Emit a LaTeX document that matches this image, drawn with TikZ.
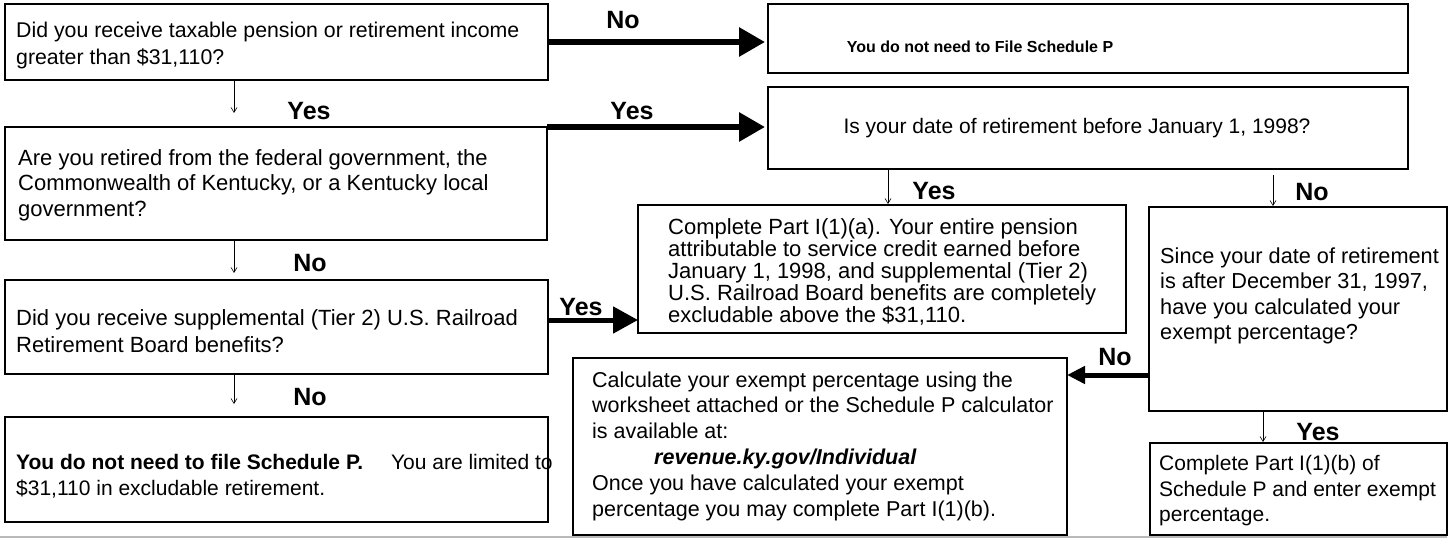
\documentclass[tikz,border=0pt]{standalone}
\usepackage{fontspec}
\setmainfont{Liberation Sans}
\usetikzlibrary{arrows.meta}
\begin{document}
\begin{tikzpicture}[x=1pt,y=-1pt,
  box/.style={draw, line width=2.5pt, anchor=north west, inner sep=0pt, outer sep=0pt},
  txt/.style={anchor=west, align=left, inner sep=0pt, font=\fontsize{21}{25.5}\selectfont},
  lbl/.style={font=\fontsize{25}{25}\selectfont\bfseries, inner sep=0pt},
  thinarrow/.style={line width=0.6pt, -{Straight Barb[length=5pt,width=6pt]}},
  thickarrow/.style={line width=6pt, -{Triangle[length=26pt,width=28pt]}, shorten >=3pt},
]
\useasboundingbox (0,0) rectangle (1452,538);
% boxes
\node[box, minimum width=543pt, minimum height=76pt] (b1) at (5,4) {};
\node[box, minimum width=640pt, minimum height=69pt] (b2) at (768,4) {};
\node[box, minimum width=542pt, minimum height=113pt] (b3) at (5,127) {};
\node[box, minimum width=543pt, minimum height=94pt] (b4) at (5,280) {};
\node[box, minimum width=543pt, minimum height=105pt] (b5) at (5,417) {};
\node[box, minimum width=488pt, minimum height=128pt] (b6) at (638,205) {};
\node[box, minimum width=640pt, minimum height=82pt] (b7) at (768,87) {};
\node[box, minimum width=494pt, minimum height=177pt] (b8) at (573,358) {};
\node[box, minimum width=298pt, minimum height=204pt] (b9) at (1149,207) {};
\node[box, minimum width=297pt, minimum height=92pt] (b10) at (1150,443) {};
% texts
\node[txt, font=\fontsize{21.3}{27}\selectfont] (t1) at (16,45) {Did you receive taxable pension or retirement income\\greater than \$31,110?};
\node[inner sep=0pt, font=\fontsize{16}{16}\selectfont\bfseries] (t2) at (980,47) {You do not need to File Schedule P};
\node[txt, font=\fontsize{22}{25.5}\selectfont] (t3) at (18,185) {Are you retired from the federal government, the\\Commonwealth of Kentucky, or a Kentucky local\\government?};
\node[txt, font=\fontsize{22}{27}\selectfont] (t4) at (16,331) {Did you receive supplemental (Tier 2) U.S. Railroad\\Retirement Board benefits?};
\node[txt] (t5) at (16,476) {\textbf{You do not need to file Schedule P.}\hspace{28pt}You are limited to\\\$31,110 in excludable retirement.};
\node[txt, font=\fontsize{22}{22}\selectfont] (t6) at (668,272) {Complete Part I(1)(a). Your entire pension\\attributable to service credit earned before\\January 1, 1998, and supplemental (Tier 2)\\U.S. Railroad Board benefits are completely\\excludable above the \$31,110.};
\node[inner sep=0pt, font=\fontsize{21}{25}\selectfont] (t7) at (1077,128) {Is your date of retirement before January 1, 1998?};
\node[txt, font=\fontsize{21.5}{25.8}\selectfont] (t8) at (592,446) {Calculate your exempt percentage using the\\worksheet attached or the Schedule P calculator\\is available at:\\\hspace{62pt}\textbf{\textit{revenue.ky.gov/Individual}}\\Once you have calculated your exempt\\percentage you may complete Part I(1)(b).};
\node[txt, font=\fontsize{21.7}{25.5}\selectfont] (t9) at (1160,296) {Since your date of retirement\\is after December 31, 1997,\\have you calculated your\\exempt percentage?};
\node[txt] (t10) at (1159,491) {Complete Part I(1)(b) of\\Schedule P and enter exempt\\percentage.};
% free ends of thin arrows
\coordinate (e1) at (234,113);
\coordinate (e2) at (234,273);
\coordinate (e3) at (234,404);
\coordinate (e4) at (888,204);
\coordinate (s5) at (1273,175);
\coordinate (e5) at (1273,206);
\coordinate (e6) at (1263,442);
% thin arrows
\draw[thinarrow] (b1.south -| e1) -- (e1);
\draw[thinarrow] (b3.south -| e2) -- (e2);
\draw[thinarrow] (b4.south -| e3) -- (e3);
\draw[thinarrow] (b7.south -| e4) -- (e4);
\draw[thinarrow] (s5) -- (e5);
\draw[thinarrow] (b9.south -| e6) -- (e6);
% thick arrows
\draw[thickarrow] (b1.east) -- (b1.east -| b2.west);
\draw[thickarrow] (b3.north east) -- (b3.north east -| b7.west);
\draw[thickarrow, line width=5pt, -{Triangle[length=25pt,width=26pt]}, shorten >=0pt] ([yshift=7pt]b4.east) -- ([yshift=7pt]b4.east -| b6.west);
\draw[thickarrow, line width=5pt, -{Triangle[length=18pt,width=17pt]}, shorten >=0pt] ([yshift=36pt]b9.south west) -- ([yshift=36pt]b9.south west -| b8.east);
% labels
\node[lbl] (l1) at (623,20) {No};
\node[lbl] (l2) at (309,111) {Yes};
\node[lbl] (l3) at (632,111) {Yes};
\node[lbl] (l4) at (310,263) {No};
\node[lbl] (l5) at (310,397) {No};
\node[lbl] (l6) at (581,307) {Yes};
\node[lbl] (l7) at (934,191) {Yes};
\node[lbl] (l8) at (1312,192) {No};
\node[lbl] (l9) at (1115,357) {No};
\node[lbl] (l10) at (1318,432) {Yes};
% bottom rule
\draw[gray!55, line width=1.5pt] (0,537) -- (1447,537);
\end{tikzpicture}
\end{document}
